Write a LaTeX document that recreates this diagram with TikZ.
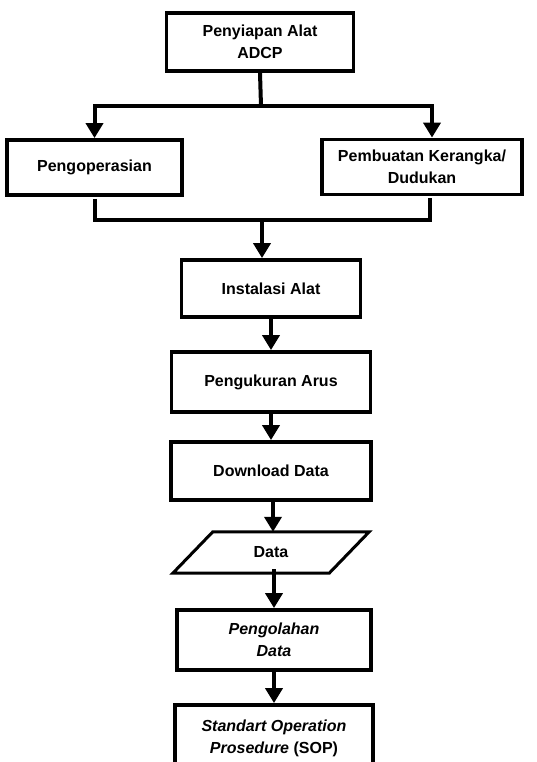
\documentclass[tikz,border=0pt]{standalone}
\usepackage{fontspec}
\setmainfont{Liberation Sans}
\usepackage{tikz}
\usetikzlibrary{arrows.meta,positioning,calc}

\begin{document}
\begin{tikzpicture}[x=1pt,y=-1pt,
  every node/.style={font=\fontsize{16}{22}\selectfont\bfseries,align=center,inner sep=0pt},
  stepbox/.style={draw,rectangle,line width=3.8pt,fill=white},
  link/.style={line width=4pt},
  arr/.style={line width=4pt,-{Triangle[length=15pt,width=17pt]}}]

\useasboundingbox (0,0) rectangle (537,762);
\clip (0,0) rectangle (537,762);

% Top of the flow
\node[stepbox,minimum width=187,minimum height=58] (prep) at (260,42) {Penyiapan Alat\\ADCP};

\node[stepbox,minimum width=175,minimum height=55] (oper) at (94.5,167.5) {Pengoperasian};
\node[stepbox,minimum width=200,minimum height=55] (frame) at (422,167) {Pembuatan Kerangka/\\Dudukan};

\coordinate (split) at (261,106);
\coordinate (join) at (262,220);

\draw[link] (prep.south) -- (split);
\draw[arr] (split) -| (oper.north);
\draw[arr] (split) -| ([xshift=10pt]frame.north);

\draw[link] ([yshift=-2pt]oper.south) |- (join) -| ([xshift=8pt,yshift=-2pt]frame.south);

% Main column
\node[stepbox,minimum width=179,minimum height=57] (instal) at (271,288.5) {Instalasi Alat};
\node[stepbox,minimum width=199,minimum height=60] (measure) at (271,382) {Pengukuran Arus};
\node[stepbox,minimum width=200,minimum height=58] (download) at (271,471) {Download Data};

\node[minimum width=156,minimum height=41] (data) at (271,552.5) {Data};
\draw[line width=3pt,fill=white]
  ([xshift=20pt]data.north west) -- ([xshift=20pt]data.north east)
  -- ([xshift=-20pt]data.south east) -- ([xshift=-20pt]data.south west) -- cycle;
\node at (data) {Data};

\node[stepbox,minimum width=194,minimum height=60] (process) at (274,640) {\itshape Pengolahan\\\itshape Data};
\node[stepbox,minimum width=198,minimum height=66] (sop) at (274,738) {\itshape Standart Operation\\{\itshape Prosedure} (SOP)};

\draw[arr] ([yshift=1pt]join) -- (join |- instal.north);
\draw[arr] (instal.south) -- (instal.south |- measure.north);
\draw[arr] (measure.south) -- (measure.south |- download.north);
\draw[arr] ([xshift=2pt]download.south) -- ([xshift=2pt]download.south |- data.north);
\draw[arr] ([xshift=3pt,yshift=4pt]data.south) -- ([xshift=3pt]data.south |- process.north);
\draw[arr] (process.south) -- (process.south |- sop.north);

\end{tikzpicture}
\end{document}
